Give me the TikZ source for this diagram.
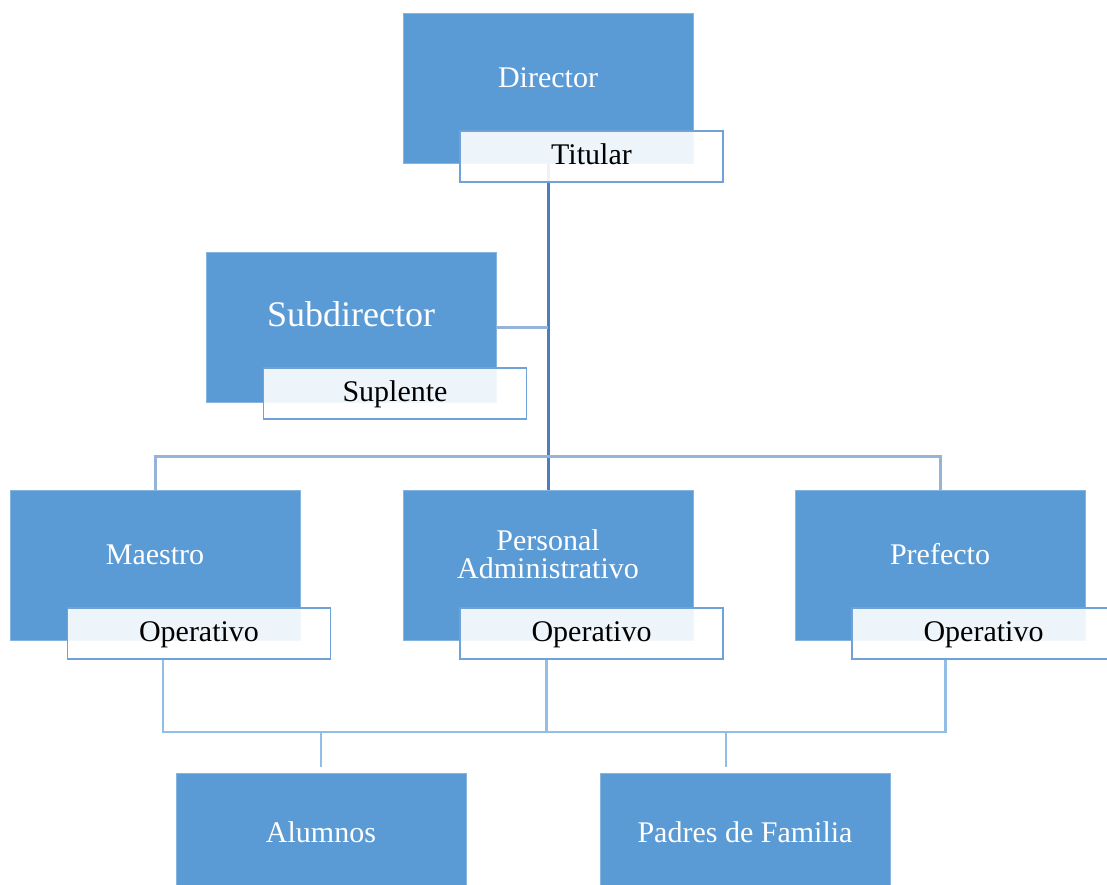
\documentclass[tikz,border=0pt]{standalone}
\usepackage{fontspec}
\setmainfont{Liberation Serif}
\usepackage{tikz}

\definecolor{boxblue}{RGB}{91,155,213}
\definecolor{tagedge}{RGB}{112,162,216}
\definecolor{trunkblue}{RGB}{76,126,186}
\definecolor{branchblue}{RGB}{150,180,216}
\definecolor{twigblue}{RGB}{146,189,228}

\tikzset{
  unit/.style={fill=boxblue, draw=boxblue!75!white, line width=1pt, inner sep=0pt,
    minimum width=290, minimum height=150, text=white, align=center,
    text height=20pt, text depth=22pt, font=\fontsize{30}{28}\selectfont},
  tagbox/.style={fill=white, fill opacity=0.9, text opacity=1, draw=tagedge, line width=1.5pt,
    inner sep=0pt, minimum width=263, minimum height=51,
    text height=21pt, text depth=6pt, font=\fontsize{30}{32}\selectfont},
  trunk/.style={draw=trunkblue, line width=3pt},
  branch/.style={draw=branchblue, line width=3pt},
  twig/.style={draw=twigblue, line width=2.5pt}
}

\begin{document}
\begin{tikzpicture}[x=1pt,y=-1pt]
  \useasboundingbox (0,0) rectangle (1107,884);
  \clip (0,0) rectangle (1107,884);
  % blue boxes, centres in pixels from the top left
  \node[unit] (dir) at (548,88) {Director};
  \node[unit, font=\fontsize{36}{40}\selectfont] (sub) at (351,327) {Subdirector};
  \node[unit] (mae) at (155,565) {Maestro};
  \node[unit, text height=48pt, text depth=22pt] (adm) at (548,565) {Personal\\Administrativo};
  \node[unit] (pre) at (940,565) {Prefecto};
  \node[unit, text depth=32pt] (alu) at (321,848) {Alumnos};
  \node[unit, text depth=32pt] (pad) at (745,848) {Padres de Familia};

  % upper lines
  \coordinate (bus) at (548,456);
  \draw[trunk] (dir.south) -- (adm.north);
  \draw[branch] (sub.east) -- (sub.east -| dir.south);
  \draw[branch] (mae.north) |- (bus) -| (pre.north);

  % tags
  \node[tagbox] (tit) at (591.5,156.5) {Titular};
  \node[tagbox] (sup) at (395,393.5) {Suplente};
  \foreach \t/\x in {op1/199,op2/591.5,op3/983.5}{\node[tagbox] (\t) at (\x,633.5) {Operativo};}

  % lower lines
  \draw[twig] ([xshift=-36]op1.south) -- ++(0,72) -| ([xshift=-38]op3.south);
  \draw[twig] ([xshift=-45]op2.south) -- ++(0,72);
  \draw[twig] ([yshift=6]alu.north) -- ++(0,-36);
  \draw[twig] ([xshift=-19,yshift=6]pad.north) -- ++(0,-36);
\end{tikzpicture}
\end{document}
